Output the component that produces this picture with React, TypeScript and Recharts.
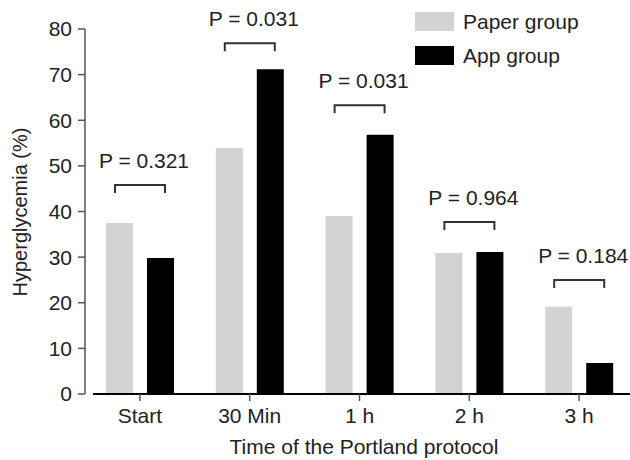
import { BarChart, Bar, XAxis, YAxis, Legend, LabelList, ReferenceLine } from "recharts";

const categories = ["Start", "30 Min", "1 h", "2 h", "3 h"];
const paperGroup = [37.5, 53.9, 39.0, 30.9, 19.1];
const appGroup = [29.8, 71.2, 56.8, 31.1, 6.8];
const pLabels = ["P = 0.321", "P = 0.031", "P = 0.031", "P = 0.964", "P = 0.184"];
const bracketLevels = [45.8, 76.9, 63.3, 37.7, 25.0];
const yTicks = [0, 10, 20, 30, 40, 50, 60, 70, 80];

const data = categories.map((name, i) => ({
  name,
  paper: paperGroup[i],
  app: appGroup[i],
}));

const FONT = "'Liberation Sans', Arial, sans-serif";
const TEXT = "#222";
const BAR_SIZE = 27;
const BAR_GAP = 14;

// bracket + P value drawn above each pair, positioned from the App bar geometry
const PBracket = (props: any) => {
  const vb = props.viewBox || props;
  const idx = props.index;
  if (idx == null || !vb) return null;
  const { x, y, width, height } = vb;
  const unit = height / appGroup[idx];
  const base = y + height;
  const by = base - bracketLevels[idx] * unit;
  const cx = x + width / 2 - (BAR_SIZE + BAR_GAP) / 2;
  return (
    <g>
      <path
        d={`M${cx - 25},${by + 8} L${cx - 25},${by} L${cx + 25},${by} L${cx + 25},${by + 8}`}
        fill="none"
        stroke="#333"
        strokeWidth={2}
      />
      <text x={cx + 4} y={by - 17} textAnchor="middle" fontSize={21} fill={TEXT} fontFamily={FONT}>
        {pLabels[idx]}
      </text>
    </g>
  );
};

const renderLegend = () => (
  <div style={{ fontFamily: FONT, fontSize: 21, color: TEXT, lineHeight: "19px" }}>
    {[
      { name: "Paper group", color: "#d3d3d3" },
      { name: "App group", color: "#000" },
    ].map((s, i) => (
      <div key={s.name} style={{ display: "flex", alignItems: "center", height: 19, marginTop: i ? 15 : 0 }}>
        <span style={{ width: 39, height: 19, background: s.color, display: "inline-block", marginRight: 9 }} />
        <span>{s.name}</span>
      </div>
    ))}
  </div>
);

export default function App() {
  return (
    <div style={{ position: "absolute", left: 0, top: 0, background: "#fff" }}>
      <BarChart
        width={630}
        height={460}
        data={data}
        margin={{ top: 29, right: -4, left: 0, bottom: 0 }}
        barSize={BAR_SIZE}
        barGap={BAR_GAP}
      >
        <YAxis
          width={85}
          domain={[0, 80]}
          ticks={yTicks}
          interval={0}
          tickSize={7}
          tickMargin={6}
          axisLine={{ stroke: "#555", strokeWidth: 1.5 }}
          tickLine={{ stroke: "#555", strokeWidth: 1.5 }}
          tick={{ fill: TEXT, fontSize: 21, fontFamily: FONT }}
          label={{
            content: () => (
              <text
                x={27}
                y={212}
                transform="rotate(-90 27 212)"
                textAnchor="middle"
                fontSize={20}
                fill={TEXT}
                fontFamily={FONT}
              >
                Hyperglycemia (%)
              </text>
            ),
          }}
        />
        <XAxis
          dataKey="name"
          height={66}
          tickSize={7}
          tickMargin={7}
          axisLine={false}
          tickLine={{ stroke: "#555", strokeWidth: 1.5 }}
          tick={{ fill: TEXT, fontSize: 21, fontFamily: FONT }}
          label={{
            content: (p: any) => {
              const vb = p.viewBox;
              return (
                <text x={364} y={vb.y + vb.height - 6} textAnchor="middle" fontSize={21} fill={TEXT} fontFamily={FONT}>
                  Time of the Portland protocol
                </text>
              );
            },
          }}
        />
        <Legend
          layout="horizontal"
          verticalAlign="middle"
          align="center"
          content={renderLegend}
          wrapperStyle={{ position: "absolute", left: 415, top: 12, width: 210 }}
        />
        <Bar dataKey="paper" name="Paper group" fill="#d3d3d3" isAnimationActive={false} />
        <Bar dataKey="app" name="App group" fill="#000" isAnimationActive={false}>
          <LabelList dataKey="app" content={PBracket} />
        </Bar>
        <ReferenceLine
          y={0}
          shape={(p: any) => (
            <line x1={p.x1 + 8} y1={p.y1} x2={p.x2} y2={p.y2} stroke="#000" strokeWidth={2} />
          )}
        />
      </BarChart>
    </div>
  );
}
